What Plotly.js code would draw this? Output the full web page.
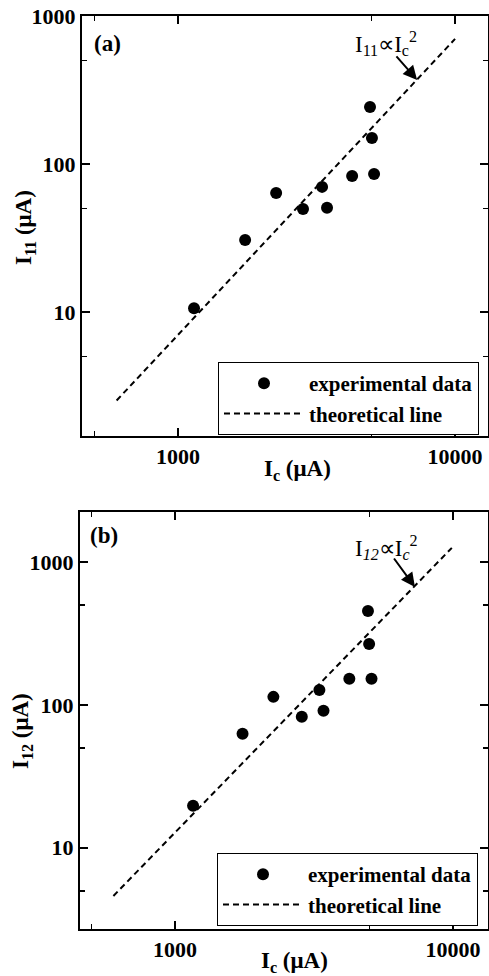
<!DOCTYPE html>
<html>
<head>
<meta charset="utf-8">
<script src="https://cdn.plot.ly/plotly-3.0.1.min.js"></script>
<style>
html,body{margin:0;padding:0;background:#fff;}
#plot{width:489px;height:976px;}
</style>
</head>
<body>
<div id="plot"></div>
<script>
// Panel (a): I11 vs Ic
const icA = [1142, 1746, 2260, 2826, 3311, 3450, 4250, 4932, 5012, 5100];
const i11 = [10.6, 30.6, 63.7, 49.7, 70, 50.5, 83, 243, 150, 85.5];
const lineXA = [600, 10000];
const lineYA = [2.52, 700];

// Panel (b): I12 vs Ic
const icB = [1161, 1749, 2258, 2857, 3305, 3420, 4236, 4943, 4990, 5090];
const i12 = [19.7, 62.7, 113.7, 82.5, 127, 90.8, 152, 454, 267, 152];
const lineXB = [600, 9900];
const lineYB = [4.6, 1255];

// Tick labels
const xTickVals = [1000, 10000];
const xTickText = ['1000', '10000'];
const xMinor = [500, 5000];
const yTickVals = [10, 100, 1000];
const yTickText = ['10', '100', '1000'];
const yMinor = [5, 50, 500];

const legendNames = ['experimental data', 'theoretical line'];

const W = 489, H = 976;
const FONT = 'Liberation Serif, Times New Roman, serif';
const px = v => v / W;
const py = v => 1 - v / H;

function axisBase(range, domain, tv, tt, mv, anchor) {
  return {
    type: 'log', range: range, domain: domain, anchor: anchor,
    showline: true, linecolor: '#000', linewidth: 2, mirror: 'allticks',
    ticks: 'inside', ticklen: 8, tickwidth: 2, tickcolor: '#000',
    tickmode: 'array', tickvals: tv, ticktext: tt,
    minor: {tickmode: 'array', tickvals: mv, ticks: 'inside', ticklen: 5, tickwidth: 1.5, tickcolor: '#000', showgrid: false},
    showgrid: false, zeroline: false, automargin: false,
    tickfont: {family: FONT, size: 22, color: '#000', weight: 700}
  };
}

const marker = {symbol: 'circle', size: 12, color: '#000'};
const dashLine = {color: '#000', width: 2, dash: '6px,4px'};

const data = [
  {x: icA, y: i11, type: 'scatter', mode: 'markers', marker: marker, name: legendNames[0], xaxis: 'x', yaxis: 'y', legend: 'legend'},
  {x: lineXA, y: lineYA, type: 'scatter', mode: 'lines', line: dashLine, name: legendNames[1], xaxis: 'x', yaxis: 'y', legend: 'legend'},
  {x: icB, y: i12, type: 'scatter', mode: 'markers', marker: marker, name: legendNames[0], xaxis: 'x2', yaxis: 'y2', legend: 'legend2'},
  {x: lineXB, y: lineYB, type: 'scatter', mode: 'lines', line: dashLine, name: legendNames[1], xaxis: 'x2', yaxis: 'y2', legend: 'legend2'}
];

const legFont = {family: FONT, size: 21, color: '#000', weight: 700};
function legendCfg(x, y) {
  return {x: x, y: y, xanchor: 'left', yanchor: 'top', xref: 'paper', yref: 'paper',
    bgcolor: '#fff', bordercolor: '#000', borderwidth: 1, font: legFont,
    itemwidth: 80, tracegroupgap: 0};
}

const annFont = {family: FONT, size: 23, color: '#000'};
const titleFont = {family: FONT, size: 23, color: '#000', weight: 700};
function txt(x, y, text, font, angle) {
  return {xref: 'paper', yref: 'paper', x: px(x), y: py(y), text: text, showarrow: false,
    xanchor: 'center', yanchor: 'middle', font: font, textangle: angle || 0};
}
const layout = {
  width: W, height: H,
  margin: {l: 0, r: 0, t: 0, b: 0},
  paper_bgcolor: '#fff', plot_bgcolor: '#fff',
  showlegend: true,
  xaxis: axisBase([Math.log10(450), Math.log10(13150)], [px(82), px(488)], xTickVals, xTickText, xMinor, 'y'),
  yaxis: axisBase([Math.log10(1.45), 3], [py(436), py(16)], yTickVals, yTickText, yMinor, 'x'),
  xaxis2: axisBase([Math.log10(455), Math.log10(13360)], [px(80), px(488)], xTickVals, xTickText, xMinor, 'y2'),
  yaxis2: axisBase([Math.log10(2.7), Math.log10(2236)], [py(929), py(512)], yTickVals, yTickText, yMinor, 'x2'),
  legend: legendCfg(px(218), py(362)),
  legend2: legendCfg(px(217), py(853)),
  annotations: [
    txt(107, 43, '(a)', {family: FONT, size: 23, color: '#000', weight: 700}),
    txt(104, 535, '(b)', {family: FONT, size: 23, color: '#000', weight: 700}),
    txt(386, 44, 'I<sub>11</sub>\u221dI<sub>c</sub><sup>2</sup>', annFont),
    txt(386, 547, 'I<sub><i>12</i></sub>\u221dI<sub><i>c</i></sub><sup>2</sup>', annFont),
    {xref: 'x', yref: 'y', x: Math.log10(7295), y: Math.log10(370), text: '', showarrow: true, arrowhead: 2, arrowsize: 1.4, arrowwidth: 2, arrowcolor: '#000', ax: -22, ay: -25},
    {xref: 'x2', yref: 'y2', x: Math.log10(7294), y: Math.log10(668), text: '', showarrow: true, arrowhead: 2, arrowsize: 1.4, arrowwidth: 2, arrowcolor: '#000', ax: -22, ay: -30},
    txt(25, 228, 'I<sub>11</sub> (\u03bcA)', titleFont, -90),
    txt(22, 731, 'I<sub>12</sub> (\u03bcA)', titleFont, -90),
    txt(297, 470, 'I<sub>c</sub> (\u03bcA)', titleFont),
    txt(294, 962, 'I<sub>c</sub> (\u03bcA)', titleFont)
  ]
};

Plotly.newPlot('plot', data, layout, {displayModeBar: false, staticPlot: true});
</script>
</body>
</html>
